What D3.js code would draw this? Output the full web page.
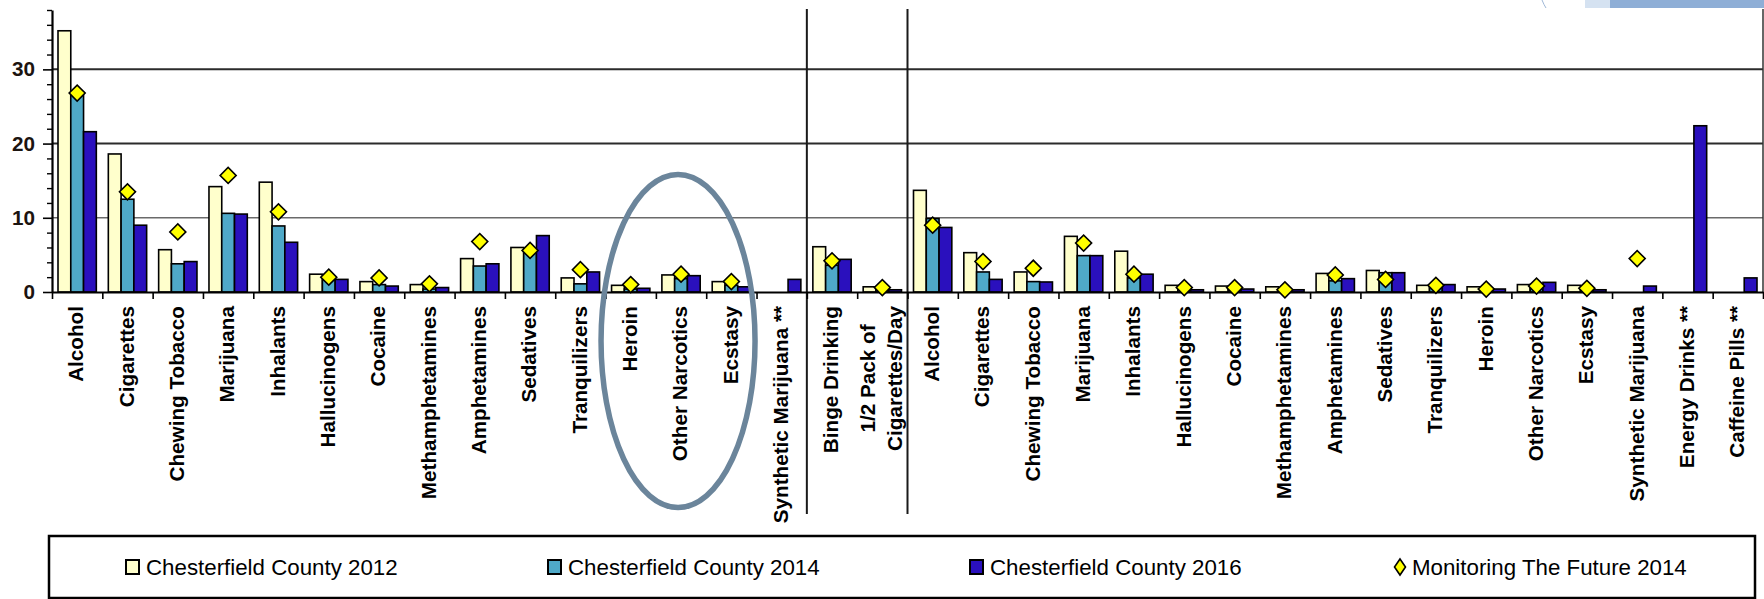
<!DOCTYPE html>
<html><head><meta charset="utf-8">
<script src="https://cdn.jsdelivr.net/npm/d3@7"></script>
<style>
body{margin:0;background:#fff}
svg{display:block}
text{font-family:"Liberation Sans",Arial,sans-serif}
</style>
</head><body>
<svg id="chart" width="1764" height="599"></svg>
<script>
// ---------- data ----------
const categories = [
  "Alcohol","Cigarettes","Chewing Tobacco","Marijuana","Inhalants","Hallucinogens","Cocaine",
  "Methamphetamines","Amphetamines","Sedatives","Tranquilizers","Heroin","Other Narcotics","Ecstasy",
  "Synthetic Marijuana **",
  "Binge Drinking","1/2 Pack of|Cigarettes/Day",
  "Alcohol","Cigarettes","Chewing Tobacco","Marijuana","Inhalants","Hallucinogens","Cocaine",
  "Methamphetamines","Amphetamines","Sedatives","Tranquilizers","Heroin","Other Narcotics","Ecstasy",
  "Synthetic Marijuana","Energy Drinks **","Caffeine Pills **"
];
const groupBreaks = [15, 17];
const cc2012 = [35.2,18.6,5.7,14.2,14.8,2.4,1.4,1.0,4.5,6.0,1.9,0.9,2.3,1.4,null,
  6.1,0.7,
  13.7,5.3,2.7,7.5,5.5,0.9,0.8,0.7,2.5,2.9,0.9,0.7,1.0,0.9,null,null,null];
const cc2014 = [26.5,12.5,3.8,10.6,8.9,1.6,1.0,0.4,3.5,5.7,1.1,0.4,1.8,0.9,null,
  3.6,0.3,
  9.9,2.7,1.4,4.9,1.9,0.4,0.4,0.3,1.5,2.6,0.7,0.4,1.0,0.5,null,null,null];
const cc2016 = [21.6,9.0,4.1,10.5,6.7,1.7,0.8,0.6,3.8,7.6,2.7,0.5,2.2,0.7,1.7,
  4.4,0.3,
  8.7,1.7,1.35,4.9,2.4,0.3,0.4,0.3,1.8,2.6,1.0,0.4,1.3,0.3,0.8,22.4,1.9];
const mtf2014 = [26.8,13.5,8.1,15.7,10.8,2.0,1.9,1.1,6.8,5.6,3.0,1.0,2.4,1.4,null,
  4.2,0.6,
  9.0,4.1,3.2,6.6,2.4,0.6,0.6,0.3,2.3,1.7,0.9,0.4,0.8,0.5,4.5,null,null];
const seriesNames = ["Chesterfield County 2012","Chesterfield County 2014","Chesterfield County 2016"];
const markerName = "Monitoring The Future 2014";
const barColors = ["#FFFFCC","#4FA9C8","#2A10BD"];
const yTicks = [0,10,20,30];
const yMax = 38;

(function(){
// ---------- layout ----------
const svg = d3.select("#chart");
const pLeft = 52, pRight = 1763, pTop = 10, pBottom = 292;
const n = categories.length;

const x = d3.scaleBand().domain(d3.range(n)).range([pLeft, pRight]).paddingInner(0).paddingOuter(0);
const xb = d3.scaleLinear().domain([0, n]).range([pLeft, pRight]);
const xs = d3.scaleBand().domain([0,1,2]).range([0, x.bandwidth()]).paddingInner(0).paddingOuter(0.47);
const y = d3.scaleLinear().domain([0, yMax]).range([pBottom, pTop]);

// decoration top right
svg.append("rect").attr("x",1585).attr("y",0).attr("width",25).attr("height",8).attr("fill","#d5e2f1");
svg.append("rect").attr("x",1610).attr("y",0).attr("width",154).attr("height",8).attr("fill","#8eaed6");
svg.append("path").attr("d","M1542,0 Q1544,5 1546,8").attr("stroke","#9fb8d6").attr("fill","none").attr("stroke-width",1);

// gridlines
svg.append("g").selectAll("line").data(yTicks.filter(d=>d>0)).join("line")
  .attr("x1", pLeft).attr("x2", pRight)
  .attr("y1", d=>y(d)).attr("y2", d=>y(d))
  .attr("stroke", d=> d===10 ? "#6a6a6a" : "#2b2b2b")
  .attr("stroke-width", d=> d===10 ? 1.6 : 2);

// right border
svg.append("line").attr("x1",pRight).attr("x2",pRight).attr("y1",pTop-1).attr("y2",pBottom)
  .attr("stroke","#333").attr("stroke-width",1.5);

// group separators
svg.append("g").selectAll("line").data(groupBreaks).join("line")
  .attr("x1", d=>xb(d)).attr("x2", d=>xb(d))
  .attr("y1", pTop-1).attr("y2", 514)
  .attr("stroke","#1a1a1a").attr("stroke-width",2);

// bars
const series = [cc2012, cc2014, cc2016];
series.forEach((vals, s) => {
  svg.append("g").selectAll("rect")
    .data(vals.map((v,i)=>({v,i})).filter(d=>d.v!=null))
    .join("rect")
    .attr("x", d=>x(d.i)+xs(s))
    .attr("y", d=>y(d.v))
    .attr("width", xs.bandwidth())
    .attr("height", d=>y(0)-y(d.v))
    .attr("fill", barColors[s])
    .attr("stroke","#000").attr("stroke-width",1.6);
});

// x axis (line + boundary ticks)
const xAxis = d3.axisBottom(xb).tickValues(d3.range(n+1)).tickFormat("").tickSize(7).tickSizeOuter(0);
const gx = svg.append("g").attr("transform",`translate(0,${pBottom})`).call(xAxis);
gx.select(".domain").attr("stroke","#000").attr("stroke-width",2.2);
gx.selectAll(".tick line").attr("stroke","#000").attr("stroke-width",1.6);

// y axis major
const yAxis = d3.axisLeft(y).tickValues(yTicks).tickSize(9).tickPadding(8).tickSizeOuter(0).tickFormat(d3.format("d"));
const gy = svg.append("g").attr("transform",`translate(${pLeft},0)`).call(yAxis);
gy.select(".domain").attr("stroke","#000").attr("stroke-width",2.2);
gy.selectAll(".tick line").attr("stroke","#000").attr("stroke-width",1.6);
gy.selectAll(".tick text").attr("font-size","20.7px").attr("font-weight","bold").attr("fill","#1c1410")
  .attr("font-family",'"Liberation Sans",Arial,sans-serif');
// y axis minor ticks
const yMinor = d3.axisLeft(y).tickValues(d3.range(0, yMax+1, 2).filter(d=>d%10!==0)).tickSize(5).tickFormat("").tickSizeOuter(0);
const gym = svg.append("g").attr("transform",`translate(${pLeft},0)`).call(yMinor);
gym.select(".domain").remove();
gym.selectAll(".tick line").attr("stroke","#000").attr("stroke-width",1.4);

// MTF diamonds
const diamond = d3.symbol().type(d3.symbolSquare).size(128);
svg.append("g").selectAll("path")
  .data(mtf2014.map((v,i)=>({v,i})).filter(d=>d.v!=null))
  .join("path")
  .attr("d", diamond)
  .attr("transform", d=>`translate(${x(d.i)+x.bandwidth()/2},${y(d.v)}) rotate(45)`)
  .attr("fill","#FFFF00").attr("stroke","#000").attr("stroke-width",1.6);

// category labels
const labelTop = 306, fs = 20.7, lineGap = 27;
categories.forEach((c,i) => {
  const lines = c.split("|");
  const cx = x(i) + x.bandwidth()/2;
  const g = svg.append("g").attr("transform",`translate(${cx},${labelTop}) rotate(-90)`);
  const ts = lines.map((ln,k) => g.append("text")
      .attr("font-size", fs+"px").attr("font-weight","bold").attr("fill","#000")
      .attr("text-anchor","middle")
      .attr("y", 6.3 + (k - (lines.length-1)/2) * lineGap)
      .text(ln));
  const L = d3.max(ts, t => t.node().getComputedTextLength());
  ts.forEach(t => t.attr("x", -L/2));
});

// annotation ellipse around Heroin / Other Narcotics / Ecstasy
const ann = {cat: 12, dx: -3, cy: 341, rx: 77, ry: 166.5};
svg.append("ellipse")
  .attr("cx", x(ann.cat)+x.bandwidth()/2+ann.dx).attr("cy", ann.cy)
  .attr("rx", ann.rx).attr("ry", ann.ry)
  .attr("fill","none").attr("stroke","#6b859b").attr("stroke-width",5.5);

// legend
const lg = svg.append("g");
lg.append("rect").attr("x",49).attr("y",536).attr("width",1706).attr("height",62)
  .attr("fill","#fff").attr("stroke","#000").attr("stroke-width",2.5);
const legendX = d3.scaleLinear().domain([0,1]).range([146, 568]);
const legendItems = seriesNames.map((nm,s)=>({nm, s})).concat([{nm: markerName, s: 3}]);
const ly = 575;
legendItems.forEach((it,k) => {
  const tx = legendX(k);
  if (it.s < 3) {
    lg.append("rect").attr("x", tx-20).attr("y", ly-15).attr("width",13).attr("height",14)
      .attr("fill", barColors[it.s]).attr("stroke","#000").attr("stroke-width",2);
  } else {
    lg.append("path").attr("d", `M${tx-12},${ly-16} L${tx-6.5},${ly-8} L${tx-12},${ly} L${tx-17.5},${ly-8} Z`)
      .attr("fill","#FFFF00").attr("stroke","#000").attr("stroke-width",1.6);
  }
  lg.append("text").attr("x", tx).attr("y", ly).attr("font-size","22.3px").attr("fill","#000").text(it.nm);
});
})();
</script>
</body></html>
